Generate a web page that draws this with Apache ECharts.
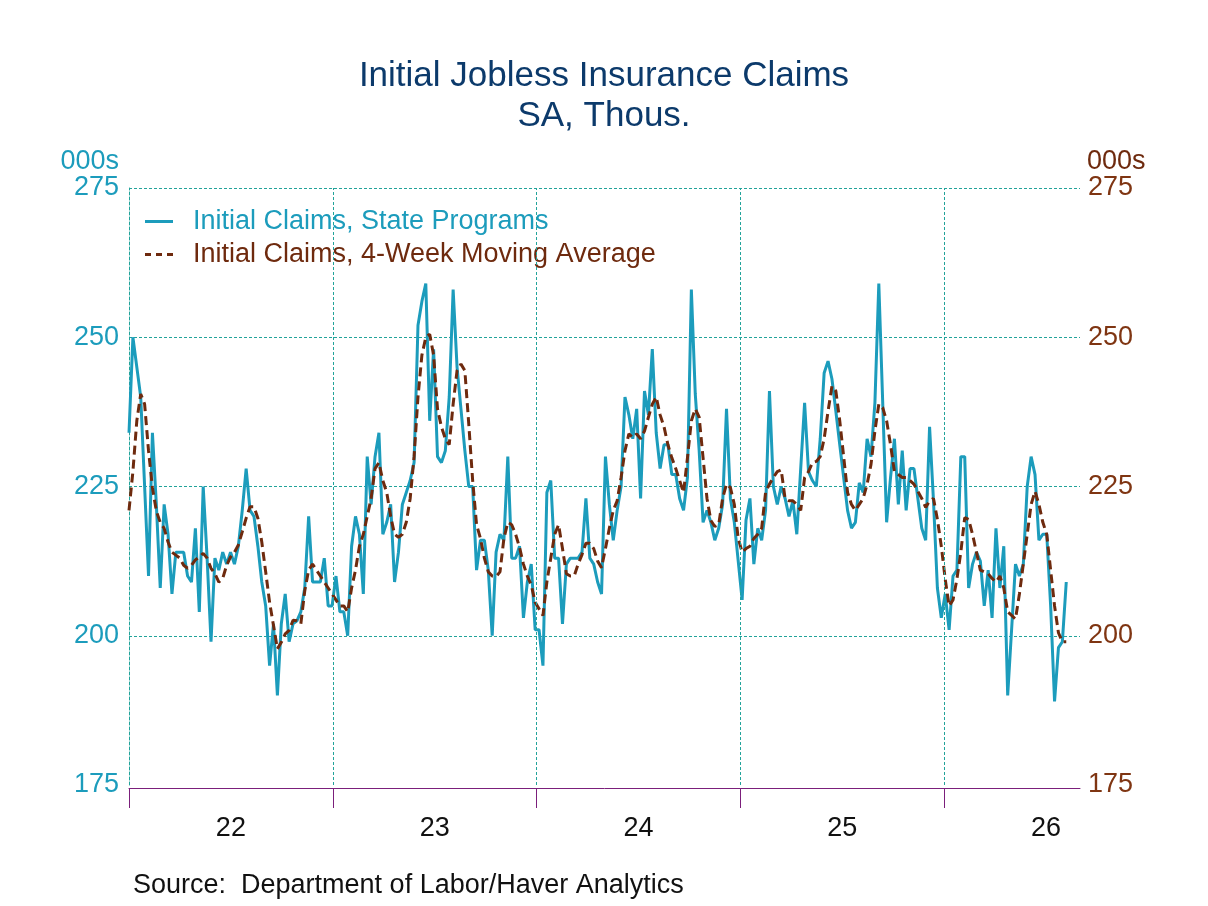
<!DOCTYPE html>
<html>
<head>
<meta charset="utf-8">
<title>Initial Jobless Insurance Claims</title>
<script src="https://cdn.jsdelivr.net/npm/echarts@6/dist/echarts.min.js"></script>
<style>
  html, body { margin: 0; padding: 0; background: #fff; }
  #claims { width: 1208px; height: 906px; }
</style>
</head>
<body>
<div id="claims"></div>
<script>
// weekly data, first week = start of 2022, one point per week
var firstWeek = 2022.0;
var weekStep = 7 / 365.25;

// Initial Claims, State Programs (thous., SA)
var initialClaims = [
    234, 250, 245, 240, 225, 210, 234, 222, 208, 222, 217, 207, 214, 214, 214, 210, 209, 218, 204, 225, 213,
    199, 213, 211, 214, 212, 214, 212, 215, 221, 228, 221, 220, 215, 209, 205, 195, 202, 190, 202, 207, 199,
    202, 202.5, 204, 208, 220, 209, 209, 209, 213, 205, 205, 210, 204, 204, 200, 215, 220, 217, 207,
    230, 222, 230, 234, 217, 219, 222, 209, 214, 222, 224, 226, 229, 252, 256, 259, 236, 248, 230, 229, 231, 240,
    258, 245, 238, 231, 225, 225, 211, 216, 216, 211, 200, 214, 217, 216, 230, 213, 213, 215, 203, 209,
    212, 201, 201, 195, 224, 226, 213, 213, 202, 212, 213, 213, 213, 214, 223, 213, 212, 209, 207, 230, 222,
    216, 221, 225, 240, 237, 233, 238, 223, 241, 237, 248, 234, 228, 232, 232, 227, 227, 223, 221, 226.5,
    258, 240.5, 231, 219, 221, 219, 216, 218, 222, 238, 223, 219, 212.5, 206, 219.4, 223, 212, 218, 216, 221, 241,
    225, 222, 225, 223, 220, 222.6, 217, 228, 239, 227.5, 226, 225, 233, 244, 246, 243, 237.6, 232, 226.5, 221,
    218, 219, 225.6, 224, 233, 230, 239, 259, 239, 219, 226.5, 233, 222, 231, 221, 228, 228, 223, 218, 216, 235,
    222.6, 208, 203, 207, 201, 210, 211, 230, 230, 208, 212, 214, 212.5, 205, 211, 203, 218, 208,
    215, 190, 201, 212, 210, 212, 225, 230, 227, 216, 217, 217, 205, 189, 198, 199, 209
];

// Initial Claims, 4-Week Moving Average
var movingAvg = [
    221, 227.5, 236, 240.5, 238.8, 231, 224.8, 220.9, 219, 218, 215.7, 214, 213.5, 213, 211.8, 211.3, 211.8,
    212.7, 213.2, 213.8, 213, 211.3, 210.4, 209, 209.6, 211.8, 213.2, 214, 215.2, 217.4, 219.7, 221.6, 221.6,
    219.7, 215.7, 210.7, 205.6, 201.7, 197.8, 198.9, 200.3, 200.9,
    202.6, 202.5, 202, 207.5, 211, 212, 211, 210, 209, 208, 207, 206, 205, 205, 204, 208, 211, 215, 217, 220,
    223, 228, 229, 226, 224, 220, 217, 216.5, 217, 219, 223, 230, 240, 247, 250, 250.5, 247, 238, 235, 233, 232,
    238.8, 244.4, 245.5, 244.4, 235.5, 226, 218.6, 216.3, 213, 210.7, 210, 209.9, 210.7, 216.3, 219, 218.6,
    217, 214.8, 212, 210, 208.5, 205.6, 204.5, 203.4, 209, 213, 217, 218.6, 214.6, 210.4, 210, 210, 212,
    213.6, 215.5, 215.5, 214.6, 212.5, 211.4, 214.6, 218,
    221, 222.6, 226.5, 231, 233.8, 233.2, 233.8, 233, 234.3, 236.6, 238.8, 240, 237, 235, 232, 229.8, 228,
    226, 224, 229.8, 236, 238, 236.6, 229.8, 223, 219.3, 218.3, 218.6, 223, 225.4, 224.8, 222, 216.3, 214,
    214.6, 215, 216.3, 217, 218, 224, 225.4,
    226.5, 227.5, 227.8, 223, 222.6, 222.6, 222, 221, 226.5, 227.5, 229, 229.2, 230, 233, 237.6, 241.8, 241,
    236, 230, 224, 222, 221, 222, 223, 225.4, 228.7, 234.3, 238.8, 238.2, 236, 232, 227.5, 227, 226.5, 226.5,
    226, 225.4, 224.2, 223, 221.5, 222.6,
    223, 219.5, 215, 209.5, 205, 206, 209.5, 214, 219.8, 219.5, 217, 214, 211, 210.7, 210.4, 209.6, 209, 210,
    208, 204, 203.4, 202.8, 207, 212, 217, 222, 224.2, 222, 219, 217, 211, 205, 200.5, 199, 199
];

// year boundaries (ticks / grid lines) and year labels (centred in the year)
var yearTicks = [2022, 2023, 2024, 2025, 2026];
var yearGrid = [2023, 2024, 2025, 2026];
var yearLabels = [2022.5, 2023.5, 2024.5, 2025.5, 2026.5];
var yTicks = { min: 175, max: 275, step: 25 };

var font = "'Liberation Sans', Arial, sans-serif";
var teal = '#1c9cbc';
var brown = '#6e2a0e';
var gridColor = '#22a39a';
var axisPurple = '#7b1f7b';

function toPoints(arr) {
    return arr.map(function (v, i) { return [firstWeek + i * weekStep, v]; });
}

var claimsChart = echarts.init(document.getElementById('claims'), null, { renderer: 'canvas' });

var titleStyle = {
    fontFamily: font,
    fontSize: 35,
    fontWeight: 'normal',
    lineHeight: 42,
    color: '#0c3a6b'
};

var option = {
    animation: false,
    backgroundColor: '#ffffff',
    // two title lines, each centred on its own
    title: [
        { text: 'Initial Jobless Insurance Claims', left: 'center', top: 55, padding: 0, textStyle: titleStyle },
        { text: 'SA, Thous.', left: 'center', top: 95, padding: 0, textStyle: titleStyle }
    ],
    legend: {
        orient: 'vertical',
        left: 145,
        top: 208,
        padding: 0,
        itemWidth: 28,
        itemHeight: 3,
        itemGap: 6,
        selectedMode: false,
        textStyle: { fontFamily: font, fontSize: 27, padding: [0, 0, 0, 15] },
        data: [
            { name: 'Initial Claims, State Programs', textStyle: { color: teal },
              icon: 'path://M0,0h28v3h-28z' },
            { name: 'Initial Claims, 4-Week Moving Average', textStyle: { color: brown },
              icon: 'path://M0,0h6v3h-6z M11,0h6v3h-6z M22,0h6v3h-6z' }
        ]
    },
    grid: { left: 129, right: 128, top: 188, height: 597 },
    xAxis: {
        type: 'value',
        min: 2022,
        max: 2026.667,
        offset: 3,
        axisLine: { show: true, lineStyle: { color: axisPurple, width: 1 } },
        axisTick: { show: true, customValues: yearTicks, length: 20, lineStyle: { color: axisPurple } },
        axisLabel: {
            customValues: yearLabels,
            margin: 27,
            fontFamily: font,
            fontSize: 27,
            color: '#111',
            formatter: function (v) { return String(Math.floor(v)).slice(2); }
        },
        splitLine: { show: false }
    },
    yAxis: [
        {
            type: 'value',
            position: 'left',
            min: yTicks.min, max: yTicks.max, interval: yTicks.step,
            name: '000s',
            nameLocation: 'end',
            nameGap: 26,
            nameTextStyle: { fontFamily: font, fontSize: 27, color: teal, align: 'right',
                             verticalAlign: 'middle', padding: [0, 10, 0, 0] },
            axisLine: { show: true, lineStyle: { color: gridColor, type: [3, 2], width: 1 } },
            axisTick: { show: false },
            axisLabel: { fontFamily: font, fontSize: 27, color: teal, margin: 10 },
            splitLine: { show: true, showMinLine: false,
                         lineStyle: { color: gridColor, type: [3, 2], width: 1 } }
        },
        {
            type: 'value',
            position: 'right',
            min: yTicks.min, max: yTicks.max, interval: yTicks.step,
            name: '000s',
            nameLocation: 'end',
            nameGap: 26,
            nameTextStyle: { fontFamily: font, fontSize: 27, color: brown, align: 'left',
                             verticalAlign: 'middle', padding: [0, 0, 0, 7] },
            axisLine: { show: false },
            axisTick: { show: false },
            axisLabel: { fontFamily: font, fontSize: 27, color: '#7f3512', margin: 8 },
            splitLine: { show: false }
        }
    ],
    graphic: [
        {
            type: 'text',
            left: 133,
            top: 872,
            style: {
                text: 'Source:  Department of Labor/Haver Analytics',
                fontFamily: font,
                fontSize: 27,
                fill: '#111'
            }
        }
    ],
    series: [
        {
            // year separators, kept behind the data lines
            name: 'yearGrid',
            type: 'line',
            data: [],
            z: 1,
            silent: true,
            markLine: {
                silent: true,
                symbol: 'none',
                label: { show: false },
                lineStyle: { color: gridColor, type: [3, 2], width: 1 },
                data: yearGrid.map(function (y) { return { xAxis: y }; })
            }
        },
        {
            name: 'Initial Claims, State Programs',
            type: 'line',
            data: toPoints(initialClaims),
            symbol: 'none',
            z: 3,
            lineStyle: { color: teal, width: 3 },
            itemStyle: { color: teal }
        },
        {
            name: 'Initial Claims, 4-Week Moving Average',
            type: 'line',
            data: toPoints(movingAvg),
            symbol: 'none',
            z: 4,
            lineStyle: { color: brown, width: 3, type: [9, 5] },
            itemStyle: { color: brown }
        }
    ]
};

claimsChart.setOption(option);
</script>
</body>
</html>
